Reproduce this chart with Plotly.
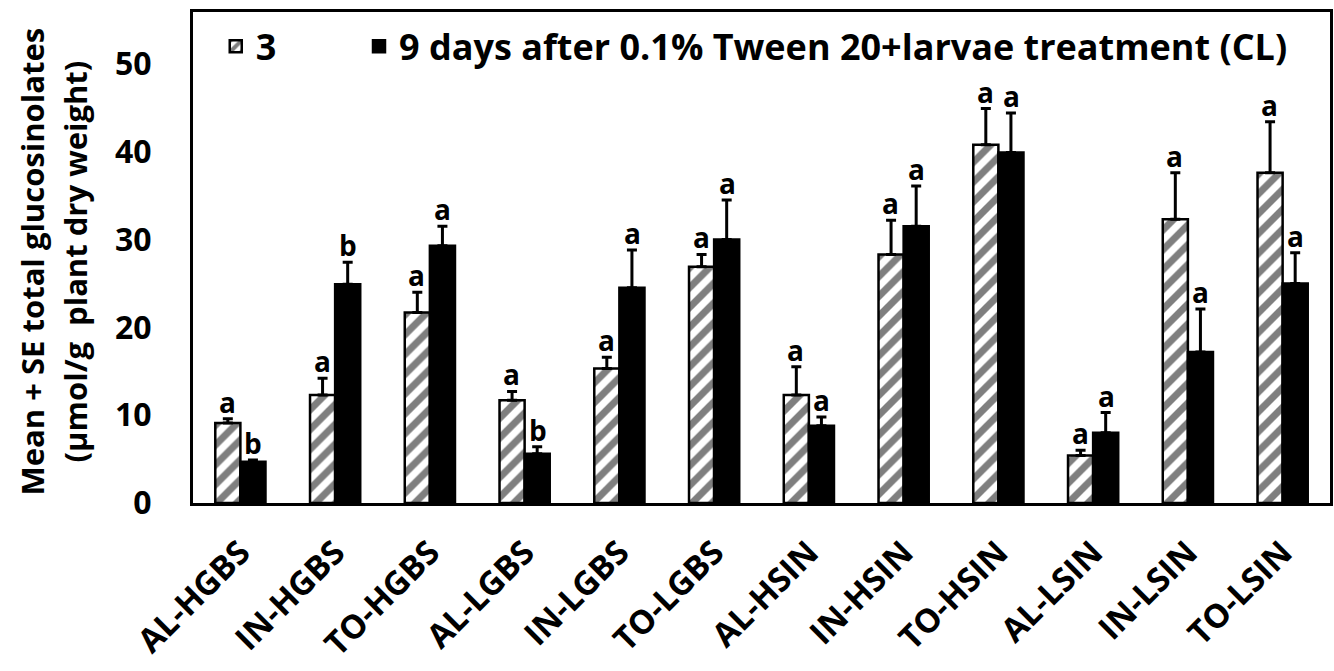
import plotly.graph_objects as go

categories = ["AL-HGBS", "IN-HGBS", "TO-HGBS", "AL-LGBS", "IN-LGBS", "TO-LGBS",
              "AL-HSIN", "IN-HSIN", "TO-HSIN", "AL-LSIN", "IN-LSIN", "TO-LSIN"]
day3_mean = [9.1, 12.3, 21.7, 11.7, 15.3, 26.9, 12.3, 28.3, 40.8, 5.4, 32.3, 37.6]
day3_se = [0.5, 1.9, 2.3, 1.0, 1.3, 1.4, 3.2, 3.9, 4.1, 0.6, 5.3, 5.8]
day9_mean = [4.7, 24.9, 29.3, 5.6, 24.5, 30.0, 8.8, 31.5, 39.9, 8.0, 17.2, 25.0]
day9_se = [0.2, 2.5, 2.2, 0.8, 4.3, 4.5, 1.0, 4.6, 4.5, 2.3, 4.9, 3.5]
day3_letters = ["a", "a", "a", "a", "a", "a", "a", "a", "a", "a", "a", "a"]
day9_letters = ["b", "b", "a", "b", "a", "a", "a", "a", "a", "a", "a", "a"]
series_names = ["3", "9 days after 0.1% Tween 20+larvae treatment (CL)"]
y_ticks = [0, 10, 20, 30, 40, 50]
y_title_lines = ["Mean + SE total glucosinolates", "(µmol/g  plant dry weight)"]

FONT = "Open Sans"


def f(size):
    return dict(family=FONT, size=size, color="black", weight="bold")


fig = go.Figure()
fig.add_trace(go.Bar(
    x=categories, y=day3_mean, name=series_names[0], legend="legend",
    marker=dict(color="white", line=dict(color="black", width=2.5),
                pattern=dict(shape="/", fgcolor="black", bgcolor="white", size=14, solidity=0.5)),
    error_y=dict(type="data", array=day3_se, arrayminus=[0] * len(day3_se), symmetric=False,
                 color="black", thickness=3, width=5),
))
fig.add_trace(go.Bar(
    x=categories, y=day9_mean, name=series_names[1], legend="legend2",
    marker=dict(color="black", line=dict(color="black", width=2.5)),
    error_y=dict(type="data", array=day9_se, arrayminus=[0] * len(day9_se), symmetric=False,
                 color="black", thickness=3, width=5),
))

annotations = []
for i, c in enumerate(categories):
    annotations.append(dict(x=c, y=day3_mean[i] + day3_se[i], text=day3_letters[i], showarrow=False,
                            xref="x", yref="y", yanchor="bottom", xshift=-13, yshift=-4, font=f(28)))
    annotations.append(dict(x=c, y=day9_mean[i] + day9_se[i], text=day9_letters[i], showarrow=False,
                            xref="x", yref="y", yanchor="bottom", xshift=13, yshift=-4, font=f(28)))

# y-axis title (two lines)
annotations.append(dict(x=0, y=0.492, xref="paper", yref="paper", text=y_title_lines[0],
                        textangle=-90, showarrow=False, xanchor="center", yanchor="middle",
                        xshift=-161, font=f(31)))
annotations.append(dict(x=0, y=0.492, xref="paper", yref="paper", text=y_title_lines[1],
                        textangle=-90, showarrow=False, xanchor="center", yanchor="middle",
                        xshift=-118, font=f(31)))

fig.update_layout(
    width=1334, height=671,
    margin=dict(l=193, r=4, t=12, b=168),
    paper_bgcolor="white", plot_bgcolor="white",
    barmode="group", bargap=0.47, bargroupgap=0,
    font=f(28),
    showlegend=True,
    legend=dict(x=0.02, y=0.93, xanchor="left", yanchor="middle", font=f(36),
                bgcolor="rgba(0,0,0,0)", itemwidth=30),
    legend2=dict(x=0.146, y=0.93, xanchor="left", yanchor="middle", font=f(36),
                 bgcolor="rgba(0,0,0,0)", itemwidth=30),
    annotations=annotations,
    xaxis=dict(showline=True, linecolor="black", linewidth=3, mirror=True, automargin=False,
               tickangle=-45, tickfont=f(33), ticks="", showgrid=False, ticklabelstandoff=14),
    yaxis=dict(range=[0, 55.9], tickvals=y_ticks, showline=True, linecolor="black", linewidth=3,
               mirror=True, showgrid=False, zeroline=False, ticks="", automargin=False,
               tickfont=f(32), ticklabelstandoff=32),
)

fig.write_html("out.html", config={"displayModeBar": False},
               post_script="document.body.style.margin='0';")
